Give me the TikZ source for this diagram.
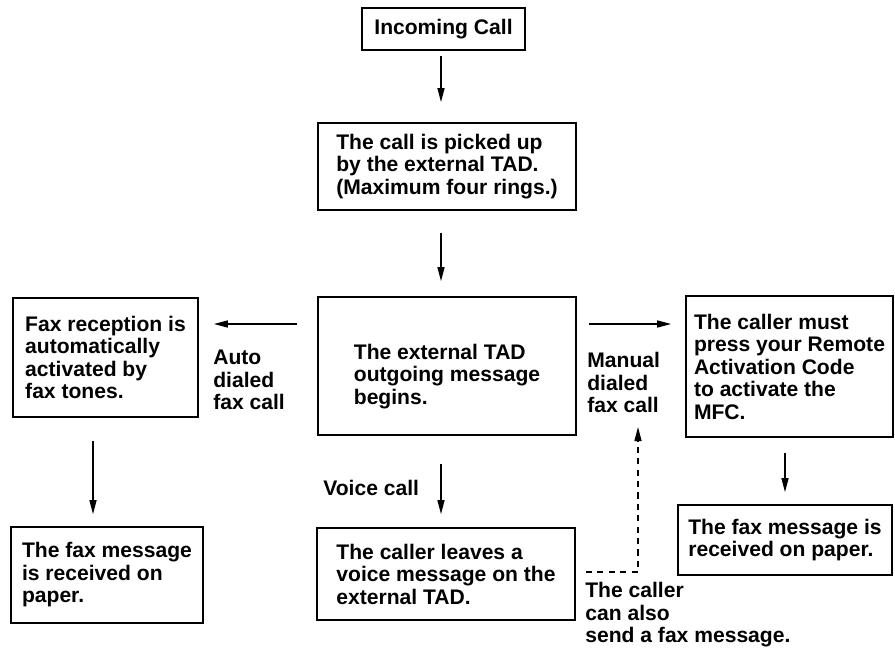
\documentclass[tikz,border=0pt]{standalone}
\usepackage{fontspec}
\setmainfont{Liberation Sans}
\usetikzlibrary{arrows.meta}

\begin{document}
\begin{tikzpicture}[x=0.02cm, y=-0.02cm,
	every node/.style={font=\fontsize{12}{12.8}\selectfont\bfseries, align=left},
	box/.style={draw, line width=1pt, inner sep=2pt},
	lbl/.style={inner sep=0pt, anchor=north west},
	arr/.style={line width=0.8pt, -{Triangle[length=8pt,width=4pt]}}]
\useasboundingbox (0,0) rectangle (895,654);
\node[box, minimum width=3.26cm, minimum height=0.84cm] (inc) at (443.5,29) {Incoming Call};
\node[box, minimum width=5.16cm, minimum height=1.74cm] (pick) at (447,166.5)
	{The call is picked up\\by the external TAD.\\(Maximum four rings.)};
\node[box, minimum width=5.16cm, minimum height=2.76cm, text height=46pt] (tad) at (447,366)
	{The external TAD\\outgoing message\\begins.};
\node[box, minimum width=3.7cm, minimum height=2.38cm] (faxrx) at (105.5,357.5)
	{Fax reception is\\automatically\\activated by\\fax tones.};
\node[box, minimum width=4.14cm, minimum height=2.82cm] (remote) at (789.5,366.5)
	{The caller must\\press your Remote\\Activation Code\\to activate the\\MFC.};
\node[box, minimum width=3.84cm, minimum height=1.92cm] (paperl) at (107,575)
	{The fax message\\is received on\\paper.};
\node[box, minimum width=5.16cm, minimum height=1.84cm] (voice) at (446,574)
	{The caller leaves a\\voice message on the\\external TAD.};
\node[box, minimum width=4.28cm, minimum height=1.4cm] (paperr) at (785,540)
	{The fax message is\\received on paper.};
\node[lbl] (auto) at (213,350) {Auto\\dialed\\fax call};
\node[lbl] (manual) at (587,352) {Manual\\dialed\\fax call};
\node[lbl] (voicecall) at (323,480) {Voice call};
\node[lbl] (also) at (585,582) {The caller\\can also\\send a fax message.};
\coordinate (ccol) at (441,0);
\coordinate (lcol) at (93,0);
\coordinate (hlvl) at (0,324);
\coordinate (dcorner) at (638,572);
\coordinate (dtip) at (638,427);
\draw[arr, shorten <=0.1cm, shorten >=0.4cm] (inc.south -| ccol) -- (pick.north -| ccol);
\draw[arr, shorten <=0.44cm, shorten >=0.3cm] (pick.south -| ccol) -- (tad.north -| ccol);
\draw[arr, shorten <=0.4cm, shorten >=0.3cm] (tad.west |- hlvl) -- (faxrx.east |- hlvl);
\draw[arr, shorten <=0.24cm, shorten >=0.28cm] (tad.east |- hlvl) -- (remote.west |- hlvl);
\draw[arr, shorten <=0.46cm, shorten >=0.24cm] (faxrx.south -| lcol) -- (paperl.north -| lcol);
\draw[arr, shorten <=0.56cm, shorten >=0.26cm] (tad.south -| ccol) -- (voice.north -| ccol);
\draw[arr, shorten <=0.3cm, shorten >=0.24cm] (remote.south -| paperr.north) -- (paperr.north);
\draw[arr, dash pattern=on 3.5pt off 3pt, shorten <=0.2cm] (voice.east |- dcorner) -- (dcorner) -- (dtip);
\end{tikzpicture}
\end{document}
